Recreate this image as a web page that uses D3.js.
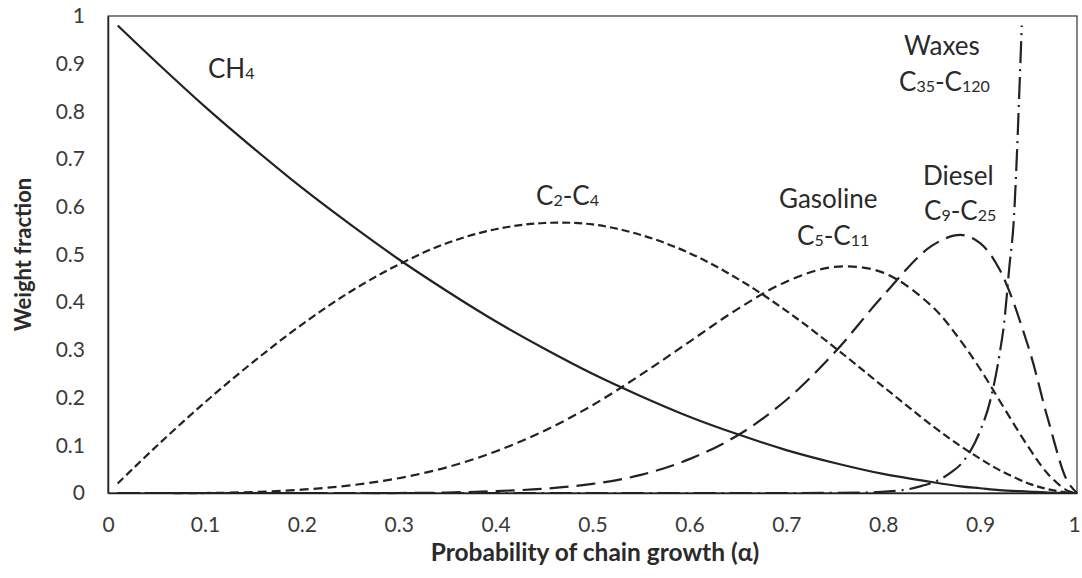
<!DOCTYPE html>
<html>
<head>
<meta charset="utf-8">
<script src="https://cdn.jsdelivr.net/npm/d3@7"></script>
<style>
  html, body { margin: 0; padding: 0; background: #fff; }
  svg { display: block; }
</style>
</head>
<body>
<svg id="chart" width="1082" height="578"></svg>
<script>
// ---- data ----
const alpha = [0.01,0.05,0.10,0.15,0.20,0.25,0.30,0.35,0.40,0.45,0.50,0.55,0.60,0.65,0.70,0.75,0.80,0.85,0.88,0.90,0.92,0.95,0.97,0.99,1.00];
const ch4      = [0.980,0.903,0.810,0.723,0.640,0.563,0.490,0.423,0.360,0.303,0.250,0.203,0.160,0.123,0.090,0.063,0.040,0.023,0.014,0.010,0.006,0.003,0.001,0.000,0];
const c2c4     = [0.020,0.098,0.190,0.275,0.353,0.422,0.479,0.524,0.553,0.566,0.563,0.541,0.503,0.449,0.382,0.305,0.223,0.142,0.098,0.072,0.048,0.020,0.008,0.001,0];
const gasoline = [0.000,0.000,0.000,0.002,0.007,0.016,0.031,0.054,0.087,0.130,0.184,0.248,0.317,0.386,0.443,0.474,0.462,0.392,0.319,0.260,0.194,0.096,0.040,0.005,0];
const diesel   = [0.000,0.000,0.000,0.000,0.000,0.000,0.000,0.001,0.004,0.009,0.019,0.038,0.071,0.121,0.195,0.295,0.414,0.518,0.541,0.524,0.469,0.305,0.155,0.025,0];
const waxAlpha = [0.01,0.70,0.78,0.82,0.84,0.86,0.87,0.88,0.89,0.90,0.91,0.92,0.925,0.93,0.935,0.938,0.941,0.943];
const waxes    = [0.000,0.000,0.001,0.006,0.015,0.030,0.043,0.060,0.088,0.130,0.190,0.290,0.360,0.470,0.580,0.710,0.870,0.980];
const xTicks = [0,0.1,0.2,0.3,0.4,0.5,0.6,0.7,0.8,0.9,1];
const xTickLabels = ["0","0.1","0.2","0.3","0.4","0.5","0.6","0.7","0.8","0.9","1"];
const yTicks = [0,0.1,0.2,0.3,0.4,0.5,0.6,0.7,0.8,0.9,1];
const yTickLabels = ["0","0.1","0.2","0.3","0.4","0.5","0.6","0.7","0.8","0.9","1"];
const xTitle = "Probability of chain growth (α)";
const yTitle = "Weight fraction";

// ---- layout ----
const svg = d3.select("#chart");
const pL = 108, pR = 1077, pT = 16, pB = 493;
const x = d3.scaleLinear().domain([0,1]).range([pL, pR]);
const y = d3.scaleLinear().domain([0,1]).range([pB, pT]);
const font = "Lato, 'Open Sans', sans-serif";
const ink = "#222";

svg.append("rect").attr("width",1082).attr("height",578).attr("fill","#fff");

// frame
svg.append("rect").attr("x",pL).attr("y",pT).attr("width",pR-pL).attr("height",pB-pT)
  .attr("fill","none").attr("stroke","#333").attr("stroke-width",1.2);

// axes
const xAxis = d3.axisBottom(x).tickValues(xTicks).tickSize(0).tickPadding(24)
  .tickFormat((d,i)=>xTickLabels[i]);
const yAxis = d3.axisLeft(y).tickValues(yTicks).tickSize(0).tickPadding(23)
  .tickFormat((d,i)=>yTickLabels[i]);

const gx = svg.append("g").attr("transform",`translate(0,${pB})`).call(xAxis);
const gy = svg.append("g").attr("transform",`translate(${pL},0)`).call(yAxis);
[gx, gy].forEach(g => {
  g.select(".domain").attr("stroke","#222").attr("stroke-width",1.5);
  g.selectAll("text").attr("font-family",font).attr("font-size",21).attr("fill","#3a3a3a");
});
// keep the last x label inside the picture
gx.selectAll(".tick text").filter(d => d === 1).attr("dx", -3);

// axis titles
svg.append("text").attr("x",595).attr("y",561).attr("text-anchor","middle")
  .attr("font-family",font).attr("font-weight","bold").attr("font-size",24.5).attr("fill","#2a2a2a")
  .text(xTitle);
svg.append("text").attr("transform",`translate(31,${(pT+pB)/2}) rotate(-90)`)
  .attr("text-anchor","middle").attr("font-family",font).attr("font-weight","bold")
  .attr("font-size",22).attr("fill","#2a2a2a").text(yTitle);

// curves
const smooth = d3.line().x(d=>x(d[0])).y(d=>y(d[1])).curve(d3.curveCatmullRom.alpha(0.5));
const steep = d3.line().x(d=>x(d[0])).y(d=>y(d[1])).curve(d3.curveMonotoneX);
const series = [
  {vals: ch4, xs: alpha, dash: null, gen: smooth},
  {vals: c2c4, xs: alpha, dash: "8,4", gen: smooth},
  {vals: gasoline, xs: alpha, dash: "9,5", gen: smooth},
  {vals: diesel, xs: alpha, dash: "19,8", gen: smooth},
  {vals: waxes, xs: waxAlpha, dash: "22,6,2,6", gen: steep}
];
series.forEach(s => {
  svg.append("path")
    .datum(s.xs.map((a,i)=>[a, s.vals[i]]))
    .attr("d", s.gen)
    .attr("fill","none")
    .attr("stroke", ink)
    .attr("stroke-width", 2.2)
    .attr("stroke-dasharray", s.dash);
});

// annotations with subscripts
function label2(xp, yp, parts) {
  const t = svg.append("text").attr("x",xp)
    .attr("font-family",font).attr("font-size",26).attr("fill","#2a2a2a");
  parts.forEach(p => {
    const sp = t.append("tspan").attr("y", p[1] ? yp + 1 : yp).text(p[0]);
    if (p[1]) sp.attr("font-size",16);
  });
}
label2(208, 78, [["CH",0],["4",1]]);
label2(536, 205, [["C",0],["2",1],["-C",0],["4",1]]);
label2(779, 208, [["Gasoline",0]]);
label2(797, 245, [["C",0],["5",1],["-C",0],["11",1]]);
label2(923, 185, [["Diesel",0]]);
label2(924, 220, [["C",0],["9",1],["-C",0],["25",1]]);
label2(904, 55, [["Waxes",0]]);
label2(899, 91, [["C",0],["35",1],["-C",0],["120",1]]);
</script>
</body>
</html>
